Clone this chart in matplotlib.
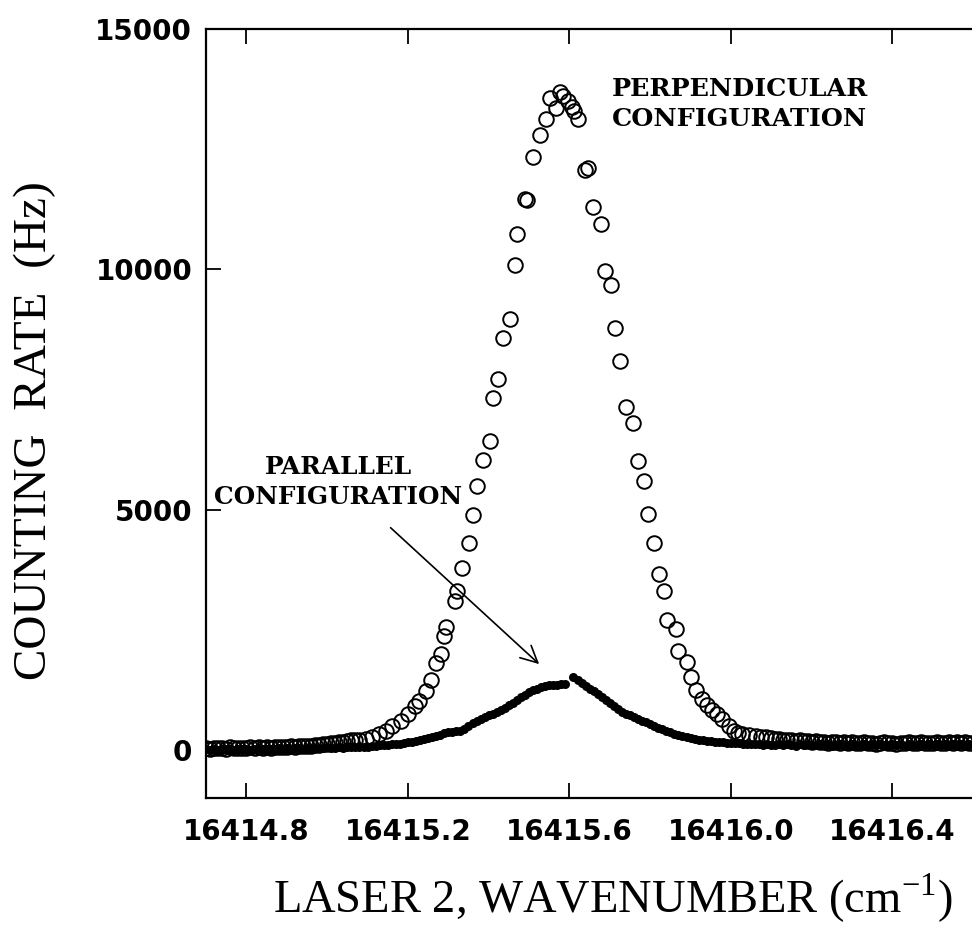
import matplotlib
matplotlib.use('Agg')
import matplotlib.pyplot as plt

plt.rcParams['mathtext.fontset'] = 'custom'
plt.rcParams['mathtext.rm'] = 'Liberation Serif'

# perpendicular configuration (open circles)
perp_x = [16414.70, 16414.71, 16414.72, 16414.73, 16414.74, 16414.75, 16414.76, 16414.77,
          16414.78, 16414.79, 16414.80, 16414.81, 16414.82, 16414.83, 16414.84, 16414.85,
          16414.86, 16414.87, 16414.88, 16414.89, 16414.90, 16414.91, 16414.92, 16414.93,
          16414.94, 16414.95, 16414.96, 16414.97, 16414.98, 16414.99, 16415.00, 16415.01,
          16415.02, 16415.03, 16415.04, 16415.05, 16415.06, 16415.07, 16415.08,
          16415.095, 16415.110, 16415.128, 16415.145, 16415.160, 16415.182, 16415.200,
          16415.217, 16415.227, 16415.244, 16415.257, 16415.269, 16415.281, 16415.289,
          16415.294, 16415.316, 16415.321, 16415.334, 16415.351, 16415.361, 16415.371,
          16415.386, 16415.403, 16415.410, 16415.423, 16415.435, 16415.453, 16415.465,
          16415.470, 16415.490, 16415.495, 16415.510, 16415.527, 16415.542, 16415.552,
          16415.567, 16415.577, 16415.584, 16415.597, 16415.606, 16415.611, 16415.621,
          16415.639, 16415.646, 16415.659, 16415.678, 16415.688, 16415.703, 16415.713,
          16415.726, 16415.740, 16415.758, 16415.770, 16415.785, 16415.795, 16415.810,
          16415.822, 16415.835, 16415.842, 16415.865, 16415.869, 16415.892, 16415.902,
          16415.914, 16415.929, 16415.941, 16415.953, 16415.966, 16415.979, 16415.996,
          16416.008, 16416.018, 16416.028, 16416.045, 16416.063, 16416.075, 16416.088,
          16416.10, 16416.11, 16416.12, 16416.13, 16416.14, 16416.15, 16416.16, 16416.17,
          16416.18, 16416.19, 16416.20, 16416.21, 16416.22, 16416.23, 16416.24, 16416.25,
          16416.26, 16416.27, 16416.28, 16416.29, 16416.30, 16416.31, 16416.32, 16416.33,
          16416.34, 16416.35, 16416.36, 16416.37, 16416.38, 16416.39, 16416.40, 16416.41,
          16416.42, 16416.43, 16416.44, 16416.45, 16416.46, 16416.47, 16416.48, 16416.49,
          16416.50, 16416.51, 16416.52, 16416.53, 16416.54, 16416.55, 16416.56, 16416.57,
          16416.58, 16416.59, 16416.60]
perp_y = [40, 30, 50, 35, 45, 30, 55, 40,
          50, 35, 45, 60, 40, 55, 45, 60,
          50, 65, 55, 70, 60, 75, 70, 85,
          80, 95, 90, 110, 105, 120, 130, 140,
          150, 165, 175, 190, 200, 210, 215,
          230, 270, 330, 400, 500, 600, 750,
          920, 1020, 1230, 1460, 1810, 2000, 2370,
          2560, 3100, 3310, 3790, 4310, 4900, 5500,
          6040, 6440, 7330, 7730, 8580, 8960, 10100,
          10730, 11460, 11440, 12350, 12790, 13140, 13560,
          13350, 13690, 13600, 13500, 13390, 13290, 13140,
          12080, 12120, 11310, 10940, 9960, 9670, 8790,
          8100, 7140, 6810, 6020, 5600, 4920, 4310,
          3670, 3310, 2710, 2520, 2060, 1830, 1520,
          1250, 1060, 940, 840, 750, 650, 500,
          400, 360, 330, 310, 290, 280, 270,
          250, 240, 230, 210, 220, 200, 190, 200,
          180, 190, 170, 180, 160, 175, 150, 165,
          170, 150, 160, 140, 165, 150, 145, 160,
          140, 155, 135, 150, 160, 140, 150, 135,
          155, 145, 160, 140, 150, 165, 145, 155,
          140, 160, 150, 145, 165, 150, 160, 145,
          170, 155, 150]

# parallel configuration (filled dots)
par_x = [16414.70, 16414.71, 16414.72, 16414.73, 16414.74, 16414.75, 16414.76, 16414.77,
         16414.78, 16414.79, 16414.80, 16414.81, 16414.82, 16414.83, 16414.84, 16414.85,
         16414.86, 16414.87, 16414.88, 16414.89, 16414.90, 16414.91, 16414.92, 16414.93,
         16414.94, 16414.95, 16414.96, 16414.97, 16414.98, 16414.99, 16415.00, 16415.01,
         16415.02, 16415.03, 16415.04, 16415.05, 16415.06, 16415.07, 16415.08, 16415.09,
         16415.10, 16415.11, 16415.12, 16415.13, 16415.14, 16415.15, 16415.16, 16415.17,
         16415.18, 16415.19, 16415.20, 16415.21, 16415.22, 16415.23, 16415.24, 16415.25,
         16415.26, 16415.27, 16415.28, 16415.29, 16415.30, 16415.31, 16415.32, 16415.33,
         16415.34, 16415.35, 16415.36, 16415.37, 16415.38, 16415.39, 16415.40, 16415.41,
         16415.42, 16415.43, 16415.44, 16415.45, 16415.46, 16415.47, 16415.48, 16415.49,
         16415.50, 16415.51, 16415.52, 16415.53, 16415.54, 16415.55, 16415.56, 16415.57,
         16415.58, 16415.59, 16415.61, 16415.62, 16415.63, 16415.64, 16415.65, 16415.66,
         16415.67, 16415.68, 16415.69, 16415.70, 16415.71, 16415.72, 16415.73, 16415.74,
         16415.75, 16415.76, 16415.77, 16415.78, 16415.79, 16415.80, 16415.81, 16415.82,
         16415.83, 16415.84, 16415.85, 16415.86, 16415.87, 16415.88, 16415.89, 16415.90,
         16415.91, 16415.92, 16415.93, 16415.94, 16415.95, 16415.96, 16415.97, 16415.98,
         16415.99, 16416.00, 16416.01, 16416.02, 16416.03, 16416.04, 16416.05, 16416.06,
         16416.07, 16416.08, 16416.09, 16416.10, 16416.11, 16416.12, 16416.13, 16416.14,
         16416.15, 16416.16, 16416.17, 16416.18, 16416.19, 16416.20, 16416.21, 16416.22,
         16416.23, 16416.24, 16416.25, 16416.26, 16416.27, 16416.28, 16416.29, 16416.30,
         16416.31, 16416.32, 16416.33, 16416.34, 16416.35, 16416.36, 16416.37, 16416.38,
         16416.39, 16416.40, 16416.41, 16416.42, 16416.43, 16416.44, 16416.45, 16416.46,
         16416.47, 16416.48, 16416.49, 16416.50, 16416.51, 16416.52, 16416.53, 16416.54,
         16416.55, 16416.56, 16416.57, 16416.58, 16416.59, 16416.60]
par_y = [20, 5, 25, 10, 30, 15, 20, 5,
         25, 15, 30, 10, 20, 35, 15, 25,
         30, 20, 35, 25, 40, 30, 35, 45,
         30, 40, 50, 35, 45, 40, 55, 45,
         50, 60, 50, 55, 65, 60, 70, 65,
         70, 85, 90, 100, 110, 115, 120, 130,
         125, 150, 160, 175, 190, 205, 230, 250,
         270, 300, 320, 350, 375, 385, 390, 400,
         440, 500, 560, 600, 650, 690, 730, 760,
         800, 840, 880, 940, 990, 1050, 1110, 1150,
         1200, 1240, 1280, 1320, 1340, 1350, 1350, 1360,
         1370, 1370, 1520, 1450, 1400, 1340, 1280, 1220,
         1160, 1100, 1040, 970, 920, 860, 800, 750,
         720, 690, 650, 610, 580, 540, 500, 470,
         430, 400, 370, 340, 320, 300, 280, 260,
         240, 220, 210, 190, 180, 170, 165, 160,
         155, 150, 145, 140, 135, 130, 125, 120,
         130, 110, 125, 115, 100, 120, 105, 125,
         110, 95, 120, 105, 130, 100, 115, 125,
         105, 120, 95, 115, 130, 110, 100, 125,
         115, 105, 130, 110, 120, 100, 125, 115,
         105, 130, 110, 120, 95, 125, 115, 105,
         130, 110, 120, 100, 125, 110, 130, 115,
         120, 105, 125, 110, 130, 115]

x_ticks = [16414.8, 16415.2, 16415.6, 16416.0, 16416.4]
y_ticks = [0, 5000, 10000, 15000]

fig = plt.figure(figsize=(9.72, 9.27), dpi=100)
# right edge of the frame falls just outside the picture, as in the scan
ax = fig.add_axes([0.212, 0.139, 0.7942, 0.8295])

ax.plot(par_x, par_y, 'o', color='black', markersize=6.5, markeredgewidth=0)
ax.plot(perp_x, perp_y, 'o', markerfacecolor='none', markeredgecolor='black',
        markersize=10.5, markeredgewidth=1.4)

ax.set_xlim(16414.7, 16416.612)
ax.set_ylim(-1000, 15000)
ax.set_xticks(x_ticks)
ax.set_xticklabels(['%.1f' % v for v in x_ticks])
ax.set_yticks(y_ticks)
ax.set_yticklabels([str(v) for v in y_ticks])

ax.tick_params(direction='in', length=11, width=1.3, top=True, right=False,
               labelsize=20)
ax.tick_params(axis='x', pad=14)
ax.tick_params(axis='y', pad=10)
for lab in ax.get_xticklabels() + ax.get_yticklabels():
    lab.set_fontweight('bold')
for sp in ax.spines.values():
    sp.set_linewidth(1.6)

fig.text(0.036, 0.535, 'COUNTING  RATE  (Hz)', rotation=90, ha='center', va='center',
         family='Liberation Serif', fontsize=34)
fig.text(0.63, 0.031, r'LASER 2, WAVENUMBER (cm$^{\mathrm{-1}}$)', ha='center', va='center',
         family='Liberation Serif', fontsize=33.5)

ax.text(16415.706, 13440, 'PERPENDICULAR\nCONFIGURATION', ha='left', va='center',
        family='DejaVu Serif', fontweight='bold', fontsize=18.3, linespacing=1.35)
ax.text(16415.028, 5580, 'PARALLEL\nCONFIGURATION', ha='center', va='center',
        multialignment='center', family='DejaVu Serif', fontweight='bold', fontsize=17.8,
        linespacing=1.35)
ax.annotate('', xy=(16415.530, 1750), xytext=(16415.152, 4666),
            arrowprops=dict(arrowstyle='->', lw=1.2, color='black', mutation_scale=30))

fig.savefig('out.png', dpi=100)
